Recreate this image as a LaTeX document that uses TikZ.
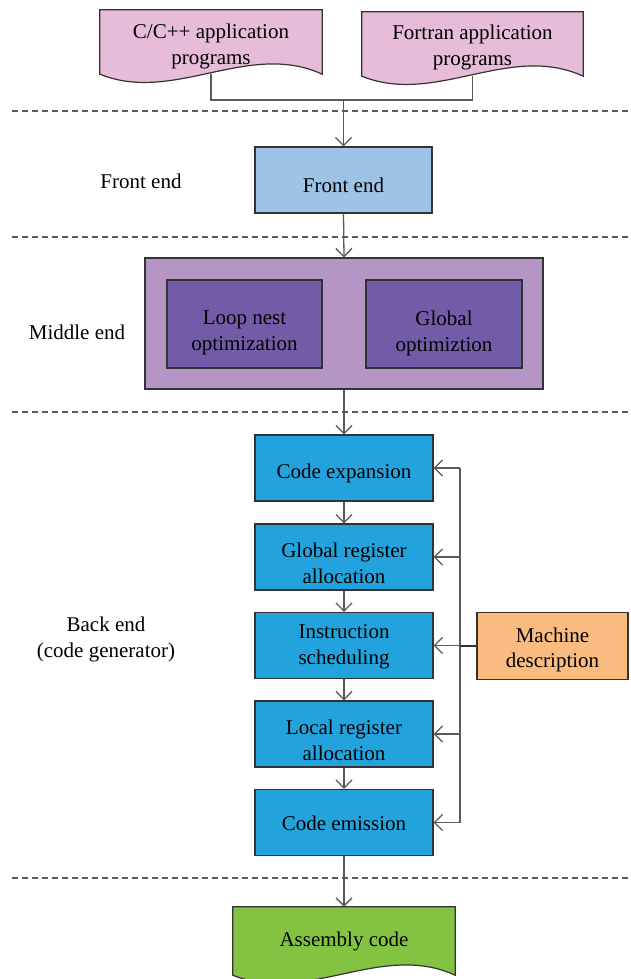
\documentclass[tikz,border=0pt]{standalone}
\usepackage{fontspec}
\setmainfont{Liberation Serif}
\usetikzlibrary{arrows.meta,backgrounds}
\definecolor{docpink}{HTML}{E6BCD9}
\definecolor{feblue}{HTML}{9DC3E6}
\definecolor{midouter}{HTML}{B495C6}
\definecolor{midinner}{HTML}{735CA7}
\definecolor{beblue}{HTML}{23A3DD}
\definecolor{machorange}{HTML}{F9BB7F}
\definecolor{asmgreen}{HTML}{84C341}
\definecolor{linegray}{HTML}{5A5A5A}
\definecolor{bordergray}{HTML}{333333}
\tikzset{
  every node/.style={font=\fontsize{21}{26}\selectfont, text=black},
  boxstyle/.style={draw=bordergray, line width=1.2pt, align=center, inner sep=0pt},
  lbl/.style={align=center, inner sep=0pt, draw=none, fill=none},
  docnode/.style={align=center, inner sep=0pt},
  docshape/.style={draw=bordergray, line width=1.2pt},
  conn/.style={draw=linegray, line width=1.3pt},
  arr/.style={conn, -{Straight Barb[length=8pt,width=16pt]}},
  sepline/.style={draw=linegray, line width=1.1pt, dash pattern=on 6pt off 4pt},
}
\newcommand{\docpath}[2]{%
  \begin{scope}[on background layer]
    \filldraw[docshape, fill=#2] (#1.north west) -- (#1.south west)
      .. controls +(74,30) and +(-74,-34) .. (#1.south east)
      -- (#1.north east) -- cycle;
  \end{scope}}
\begin{document}
\begin{tikzpicture}[x=1pt,y=-1pt]
\useasboundingbox (0,0) rectangle (631,979);
\begin{scope}[on background layer]
\fill[white] (0,0) rectangle (631,979);
\end{scope}

% separators
\draw[sepline] (12,111) -- (631,111);
\draw[sepline] (12,237) -- (631,237);
\draw[sepline] (12,412) -- (631,412);
\draw[sepline] (12,878) -- (631,878);

% input documents
\node[docnode, minimum width=222pt, minimum height=64pt,
  label={[lbl, yshift=-4pt]center:{C/C++ application\\programs}}] (cpp) at (211,42) {};
\docpath{cpp}{docpink}
\node[docnode, minimum width=221pt, minimum height=64pt,
  label={[lbl, yshift=-3pt]center:{Fortran application\\programs}}] (fort) at (472.5,44) {};
\docpath{fort}{docpink}
\coordinate (join) at (343.5,100);

% front end
\node (lfe) at (141,181) {Front end};
\node[boxstyle, fill=feblue, minimum width=177pt, minimum height=66pt,
  label={[lbl, yshift=-5pt]center:{Front end}}] (fe) at (343.5,180) {};

% middle end
\node (lme) at (77,332) {Middle end};
\node[boxstyle, fill=midouter, minimum width=398pt, minimum height=131pt] (mid) at (344,323.5) {};
\node[boxstyle, fill=midinner, minimum width=155pt, minimum height=88pt,
  label={[lbl, yshift=-9pt]center:{Loop nest\\optimization}}] (lno) at (244.5,324) {};
\node[boxstyle, fill=midinner, minimum width=156pt, minimum height=88pt,
  label={[lbl, yshift=-9pt]center:{Global\\optimiztion}}] (gopt) at (444,324) {};

% back end
\node[align=center] (lbe) at (106,639) {Back end\\(code generator)};
\node[boxstyle, fill=beblue, minimum width=178pt, minimum height=66pt,
  label={[lbl, yshift=-5pt]center:{Code expansion}}] (ce) at (344,468) {};
\node[boxstyle, fill=beblue, minimum width=178pt, minimum height=66pt,
  label={[lbl, yshift=-6pt]center:{Global register\\allocation}}] (gra) at (344,557) {};
\node[boxstyle, fill=beblue, minimum width=178pt, minimum height=66pt,
  label={[lbl, yshift=-1pt]center:{Instruction\\scheduling}}] (is) at (344,645.5) {};
\node[boxstyle, fill=beblue, minimum width=178pt, minimum height=66pt,
  label={[lbl, yshift=-6pt]center:{Local register\\allocation}}] (lra) at (344,734) {};
\node[boxstyle, fill=beblue, minimum width=178pt, minimum height=66pt,
  label={[lbl, yshift=-1pt]center:{Code emission}}] (em) at (344,822.5) {};
\node[boxstyle, fill=machorange, minimum width=151pt, minimum height=67pt,
  label={[lbl, yshift=-4pt, font=\fontsize{21}{24.5}\selectfont]center:{Machine\\description}}] (md) at (552.5,646) {};
\coordinate (bus) at (460,0);

% output document
\node[docnode, minimum width=222pt, minimum height=68pt,
  label={[lbl]center:{Assembly code}}] (asm) at (344,941) {};
\docpath{asm}{asmgreen}

% connectors
\draw[conn] (cpp.south) |- (join);
\draw[conn] (fort.south) |- (join);
\draw[arr] (join) -- (fe.north);
\draw[arr] (fe.south) -- (mid.north);
\draw[arr] (mid.south) -- (ce.north);
\draw[arr] (ce.south) -- (gra.north);
\draw[arr] (gra.south) -- (is.north);
\draw[arr] (is.south) -- (lra.north);
\draw[arr] (lra.south) -- (em.north);
\draw[arr] (em.south) -- (asm.north);

\draw[conn] (ce.east -| bus) -- (em.east -| bus);
\draw[arr] (ce.east -| bus) -- (ce.east);
\draw[arr] (gra.east -| bus) -- (gra.east);
\draw[arr] (is.east -| bus) -- (is.east);
\draw[arr] (lra.east -| bus) -- (lra.east);
\draw[arr] (em.east -| bus) -- (em.east);
\draw[draw=bordergray, line width=1.8pt] (md.west) -- (md.west -| bus);
\end{tikzpicture}
\end{document}
